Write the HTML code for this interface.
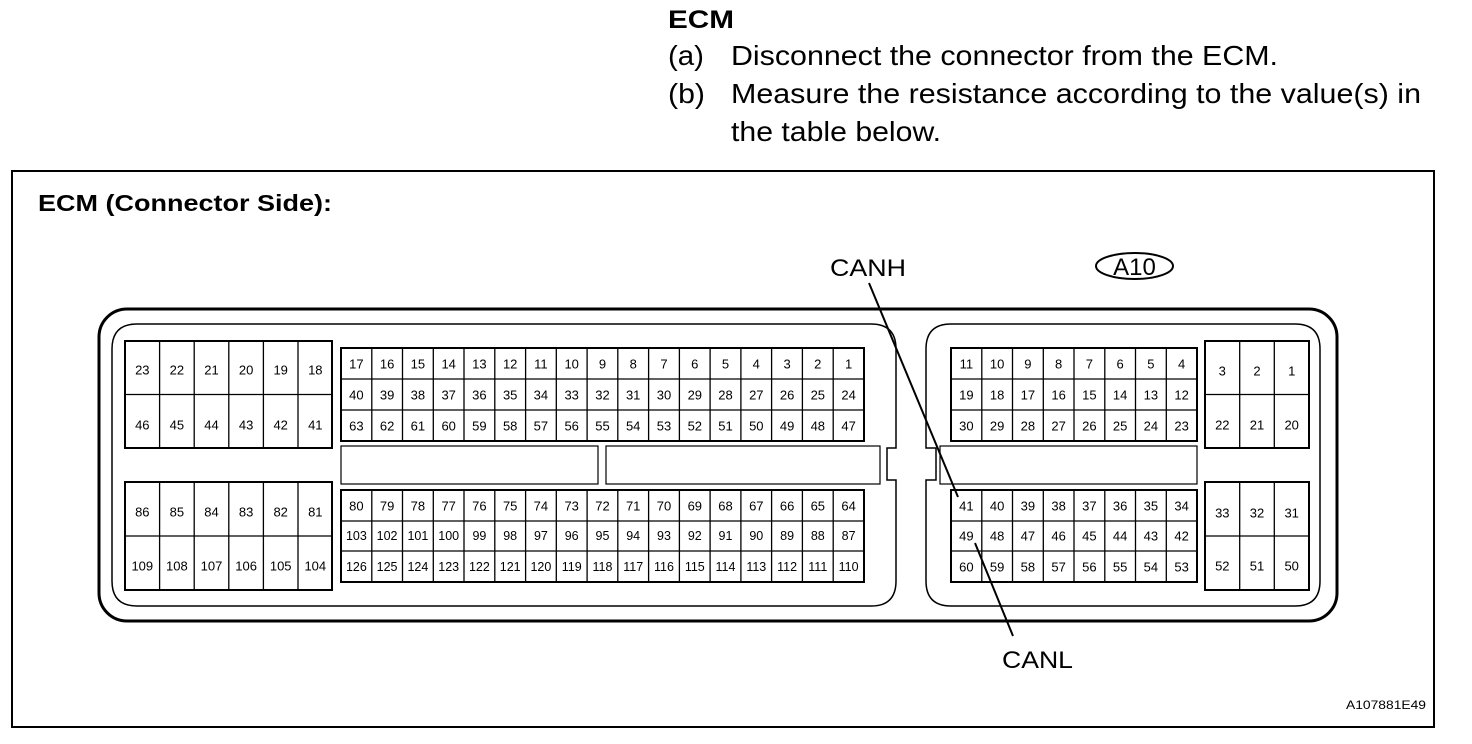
<!DOCTYPE html>
<html><head><meta charset="utf-8"><style>
html,body{margin:0;padding:0;background:#fff;}
svg{display:block;font-family:"Liberation Sans",sans-serif;}
.n{font-size:13px;text-anchor:middle;dominant-baseline:central;}
</style></head><body>
<svg width="1472" height="744" viewBox="0 0 1472 744" xmlns="http://www.w3.org/2000/svg">
<text x="668" y="28" font-size="25" font-weight="bold" textLength="66" lengthAdjust="spacingAndGlyphs">ECM</text>
<text x="668" y="65" font-size="28" textLength="36" lengthAdjust="spacingAndGlyphs">(a)</text>
<text x="731" y="65" font-size="28" textLength="547" lengthAdjust="spacingAndGlyphs">Disconnect the connector from the ECM.</text>
<text x="668" y="103" font-size="28" textLength="37" lengthAdjust="spacingAndGlyphs">(b)</text>
<text x="731" y="103" font-size="28" textLength="690" lengthAdjust="spacingAndGlyphs">Measure the resistance according to the value(s) in</text>
<text x="731" y="141" font-size="28" textLength="210" lengthAdjust="spacingAndGlyphs">the table below.</text>
<rect x="12" y="171" width="1422" height="556" fill="none" stroke="#000" stroke-width="2"/>
<text x="38" y="211" font-size="23" font-weight="bold" textLength="294" lengthAdjust="spacingAndGlyphs">ECM (Connector Side):</text>
<text x="830" y="276" font-size="24" textLength="76" lengthAdjust="spacingAndGlyphs">CANH</text>
<ellipse cx="1134.5" cy="266" rx="38.5" ry="13" fill="none" stroke="#000" stroke-width="2"/>
<text x="1134.5" y="275" font-size="24" text-anchor="middle">A10</text>
<text x="1002" y="668" font-size="24" textLength="71" lengthAdjust="spacingAndGlyphs">CANL</text>
<text x="1346" y="709" font-size="12" textLength="80" lengthAdjust="spacingAndGlyphs">A107881E49</text>

<rect x="99" y="309" width="1238" height="312" rx="28" fill="none" stroke="#000" stroke-width="3"/>
<path d="M137,324 H871 Q896,324 896,349 V448 H887 V480 H896 V581 Q896,606 871,606 H137 Q112,606 112,581 V349 Q112,324 137,324Z" fill="none" stroke="#000" stroke-width="1.5"/>
<path d="M951,324 H1295 Q1320,324 1320,349 V581 Q1320,606 1295,606 H951 Q926,606 926,581 V480 H936 V448 H926 V349 Q926,324 951,324Z" fill="none" stroke="#000" stroke-width="1.5"/>

<g fill="none" stroke="#000" stroke-width="1.2">
<rect x="341" y="446" width="257" height="38"/>
<rect x="606" y="446" width="274" height="38"/>
<rect x="940" y="446" width="257" height="38"/>
</g>
<g fill="none" stroke="#000" stroke-width="2">
<rect x="125" y="341" width="207" height="107"/>
<rect x="125" y="482" width="207" height="108"/>
<rect x="341" y="348" width="523" height="93"/>
<rect x="341" y="490" width="523" height="92"/>
<rect x="951" y="348" width="246" height="93"/>
<rect x="951" y="490" width="246" height="92"/>
<rect x="1205" y="341" width="104" height="107"/>
<rect x="1205" y="482" width="104" height="108"/>
</g>
<g stroke="#000" stroke-width="1.3">
<path d="M125,394.5H332M125,536H332M1205,394.5H1309M1205,536H1309M341,379H864M341,410H864M341,521H864M341,551H864M951,379H1197M951,410H1197M951,521H1197M951,551H1197"/>
<path d="M159.6,341V448M194.2,341V448M228.8,341V448M263.4,341V448M298,341V448M159.6,482V590M194.2,482V590M228.8,482V590M263.4,482V590M298,482V590M1239.7,341V448M1274.3,341V448M1239.7,482V590M1274.3,482V590"/>
<path d="M371.8,348V441M402.5,348V441M433.3,348V441M464,348V441M494.8,348V441M525.6,348V441M556.3,348V441M587.1,348V441M617.8,348V441M648.6,348V441M679.4,348V441M710.1,348V441M740.9,348V441M771.6,348V441M802.4,348V441M833.2,348V441"/>
<path d="M371.8,490V582M402.5,490V582M433.3,490V582M464,490V582M494.8,490V582M525.6,490V582M556.3,490V582M587.1,490V582M617.8,490V582M648.6,490V582M679.4,490V582M710.1,490V582M740.9,490V582M771.6,490V582M802.4,490V582M833.2,490V582"/>
<path d="M981.8,348V441M1012.5,348V441M1043.3,348V441M1074,348V441M1104.8,348V441M1135.5,348V441M1166.3,348V441M981.8,490V582M1012.5,490V582M1043.3,490V582M1074,490V582M1104.8,490V582M1135.5,490V582M1166.3,490V582"/>
</g>
<g stroke="#000" stroke-width="2">
<line x1="869" y1="283" x2="958" y2="497"/>
<line x1="975" y1="543" x2="1013" y2="636"/>
</g>

<g class="n">
<text x="142.3" y="370">23</text><text x="176.9" y="370">22</text><text x="211.5" y="370">21</text><text x="246.1" y="370">20</text><text x="280.7" y="370">19</text><text x="315.3" y="370">18</text>
<text x="142.3" y="425">46</text><text x="176.9" y="425">45</text><text x="211.5" y="425">44</text><text x="246.1" y="425">43</text><text x="280.7" y="425">42</text><text x="315.3" y="425">41</text>
<text x="142.3" y="512">86</text><text x="176.9" y="512">85</text><text x="211.5" y="512">84</text><text x="246.1" y="512">83</text><text x="280.7" y="512">82</text><text x="315.3" y="512">81</text>
<text x="142.3" y="566">109</text><text x="176.9" y="566">108</text><text x="211.5" y="566">107</text><text x="246.1" y="566">106</text><text x="280.7" y="566">105</text><text x="315.3" y="566">104</text>
<text x="356.4" y="364">17</text><text x="387.1" y="364">16</text><text x="417.9" y="364">15</text><text x="448.7" y="364">14</text><text x="479.4" y="364">13</text><text x="510.2" y="364">12</text><text x="540.9" y="364">11</text><text x="571.7" y="364">10</text><text x="602.5" y="364">9</text><text x="633.2" y="364">8</text><text x="664" y="364">7</text><text x="694.8" y="364">6</text><text x="725.5" y="364">5</text><text x="756.3" y="364">4</text><text x="787.1" y="364">3</text><text x="817.8" y="364">2</text><text x="848.6" y="364">1</text>
<text x="356.4" y="395">40</text><text x="387.1" y="395">39</text><text x="417.9" y="395">38</text><text x="448.7" y="395">37</text><text x="479.4" y="395">36</text><text x="510.2" y="395">35</text><text x="540.9" y="395">34</text><text x="571.7" y="395">33</text><text x="602.5" y="395">32</text><text x="633.2" y="395">31</text><text x="664" y="395">30</text><text x="694.8" y="395">29</text><text x="725.5" y="395">28</text><text x="756.3" y="395">27</text><text x="787.1" y="395">26</text><text x="817.8" y="395">25</text><text x="848.6" y="395">24</text>
<text x="356.4" y="426">63</text><text x="387.1" y="426">62</text><text x="417.9" y="426">61</text><text x="448.7" y="426">60</text><text x="479.4" y="426">59</text><text x="510.2" y="426">58</text><text x="540.9" y="426">57</text><text x="571.7" y="426">56</text><text x="602.5" y="426">55</text><text x="633.2" y="426">54</text><text x="664" y="426">53</text><text x="694.8" y="426">52</text><text x="725.5" y="426">51</text><text x="756.3" y="426">50</text><text x="787.1" y="426">49</text><text x="817.8" y="426">48</text><text x="848.6" y="426">47</text>
<text x="356.4" y="506">80</text><text x="387.1" y="506">79</text><text x="417.9" y="506">78</text><text x="448.7" y="506">77</text><text x="479.4" y="506">76</text><text x="510.2" y="506">75</text><text x="540.9" y="506">74</text><text x="571.7" y="506">73</text><text x="602.5" y="506">72</text><text x="633.2" y="506">71</text><text x="664" y="506">70</text><text x="694.8" y="506">69</text><text x="725.5" y="506">68</text><text x="756.3" y="506">67</text><text x="787.1" y="506">66</text><text x="817.8" y="506">65</text><text x="848.6" y="506">64</text>
<g style="font-size:12.5px">
<text x="356.4" y="536">103</text><text x="387.1" y="536">102</text><text x="417.9" y="536">101</text><text x="448.7" y="536">100</text><text x="479.4" y="536">99</text><text x="510.2" y="536">98</text><text x="540.9" y="536">97</text><text x="571.7" y="536">96</text><text x="602.5" y="536">95</text><text x="633.2" y="536">94</text><text x="664" y="536">93</text><text x="694.8" y="536">92</text><text x="725.5" y="536">91</text><text x="756.3" y="536">90</text><text x="787.1" y="536">89</text><text x="817.8" y="536">88</text><text x="848.6" y="536">87</text>
<text x="356.4" y="567">126</text><text x="387.1" y="567">125</text><text x="417.9" y="567">124</text><text x="448.7" y="567">123</text><text x="479.4" y="567">122</text><text x="510.2" y="567">121</text><text x="540.9" y="567">120</text><text x="571.7" y="567">119</text><text x="602.5" y="567">118</text><text x="633.2" y="567">117</text><text x="664" y="567">116</text><text x="694.8" y="567">115</text><text x="725.5" y="567">114</text><text x="756.3" y="567">113</text><text x="787.1" y="567">112</text><text x="817.8" y="567">111</text><text x="848.6" y="567">110</text>
</g>
<text x="966.4" y="364">11</text><text x="997.1" y="364">10</text><text x="1027.9" y="364">9</text><text x="1058.6" y="364">8</text><text x="1089.4" y="364">7</text><text x="1120.1" y="364">6</text><text x="1150.9" y="364">5</text><text x="1181.6" y="364">4</text>
<text x="966.4" y="395">19</text><text x="997.1" y="395">18</text><text x="1027.9" y="395">17</text><text x="1058.6" y="395">16</text><text x="1089.4" y="395">15</text><text x="1120.1" y="395">14</text><text x="1150.9" y="395">13</text><text x="1181.6" y="395">12</text>
<text x="966.4" y="426">30</text><text x="997.1" y="426">29</text><text x="1027.9" y="426">28</text><text x="1058.6" y="426">27</text><text x="1089.4" y="426">26</text><text x="1120.1" y="426">25</text><text x="1150.9" y="426">24</text><text x="1181.6" y="426">23</text>
<text x="966.4" y="506">41</text><text x="997.1" y="506">40</text><text x="1027.9" y="506">39</text><text x="1058.6" y="506">38</text><text x="1089.4" y="506">37</text><text x="1120.1" y="506">36</text><text x="1150.9" y="506">35</text><text x="1181.6" y="506">34</text>
<text x="966.4" y="536">49</text><text x="997.1" y="536">48</text><text x="1027.9" y="536">47</text><text x="1058.6" y="536">46</text><text x="1089.4" y="536">45</text><text x="1120.1" y="536">44</text><text x="1150.9" y="536">43</text><text x="1181.6" y="536">42</text>
<text x="966.4" y="567">60</text><text x="997.1" y="567">59</text><text x="1027.9" y="567">58</text><text x="1058.6" y="567">57</text><text x="1089.4" y="567">56</text><text x="1120.1" y="567">55</text><text x="1150.9" y="567">54</text><text x="1181.6" y="567">53</text>
<text x="1222.3" y="371">3</text><text x="1257" y="371">2</text><text x="1291.7" y="371">1</text>
<text x="1222.3" y="425">22</text><text x="1257" y="425">21</text><text x="1291.7" y="425">20</text>
<text x="1222.3" y="513">33</text><text x="1257" y="513">32</text><text x="1291.7" y="513">31</text>
<text x="1222.3" y="566">52</text><text x="1257" y="566">51</text><text x="1291.7" y="566">50</text>
</g>
</svg>
</body></html>
